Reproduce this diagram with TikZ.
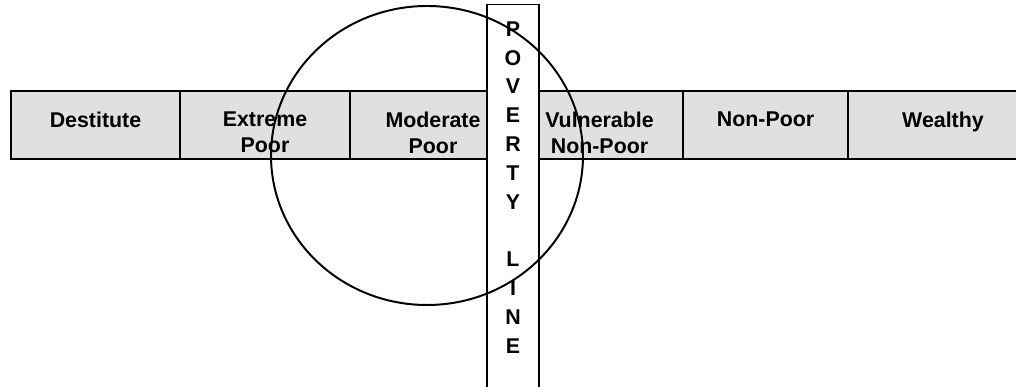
\documentclass[tikz,border=0pt]{standalone}
\usepackage{fontspec}
\setmainfont{Liberation Sans}
\definecolor{cellgray}{RGB}{224,224,224}
\begin{document}
\begin{tikzpicture}
      \tikzset{cell/.style={draw, line width=1.6pt, fill=cellgray, minimum height=1.7cm, inner sep=0pt},
               lbl/.style={anchor=north, inner sep=0pt, align=center, font=\bfseries\fontsize{15.2}{18.4}\selectfont},
               povbox/.style={draw, line width=1pt, fill=white, inner sep=0pt, anchor=north},
               ring/.style={line width=1.4pt}}
      \useasboundingbox (0,0) rectangle (25.4,9.675);
%% Cells
      	\node[cell, minimum width=4.225cm] (destitute) at (2.3875,6.55) {};
      	\node[cell, minimum width=4.25cm] (extreme) at (6.625,6.55) {};
      	\node[cell, minimum width=4.15cm] (moderate) at (10.825,6.55) {};
      	\node[cell, minimum width=4.175cm] (vulnerable) at (14.9875,6.55) {};
      	\node[cell, minimum width=4.125cm] (nonpoor) at (19.1375,6.55) {};
      	\node[cell, minimum width=4.75cm] (wealthy) at (23.575,6.55) {};
%% Labels
      	\node[lbl] (destitute-t) at ([yshift=-0.54cm]destitute.north) {Destitute};
      	\node[lbl] (extreme-t) at ([yshift=-0.54cm]extreme.north) {Extreme\\Poor};
      	\node[lbl] (moderate-t) at ([yshift=-0.54cm]moderate.north) {Moderate\\Poor};
      	\node[lbl] (vulnerable-t) at ([yshift=-0.54cm]vulnerable.north) {Vulnerable\\Non-Poor};
      	\node[lbl] (nonpoor-t) at ([yshift=-0.54cm]nonpoor.north) {Non-Poor};
      	\node[lbl] (wealthy-t) at ([yshift=-0.54cm]wealthy.north) {Wealthy};
%% Poverty line
      	\node[povbox, minimum width=1.3cm, minimum height=9.8cm] (povline) at (12.825,9.575) {};
      	\node[inner sep=0pt, align=center, font=\bfseries\fontsize{15.2}{20.5}\selectfont] (povline-t) at (12.825,4.9875)
      		{P\\O\\V\\E\\R\\T\\Y\\\mbox{}\\L\\I\\N\\E};
%% Circle
      	\draw[ring] (10.675,5.7875) ellipse [x radius=3.9, y radius=3.7375];
\end{tikzpicture}
\end{document}
